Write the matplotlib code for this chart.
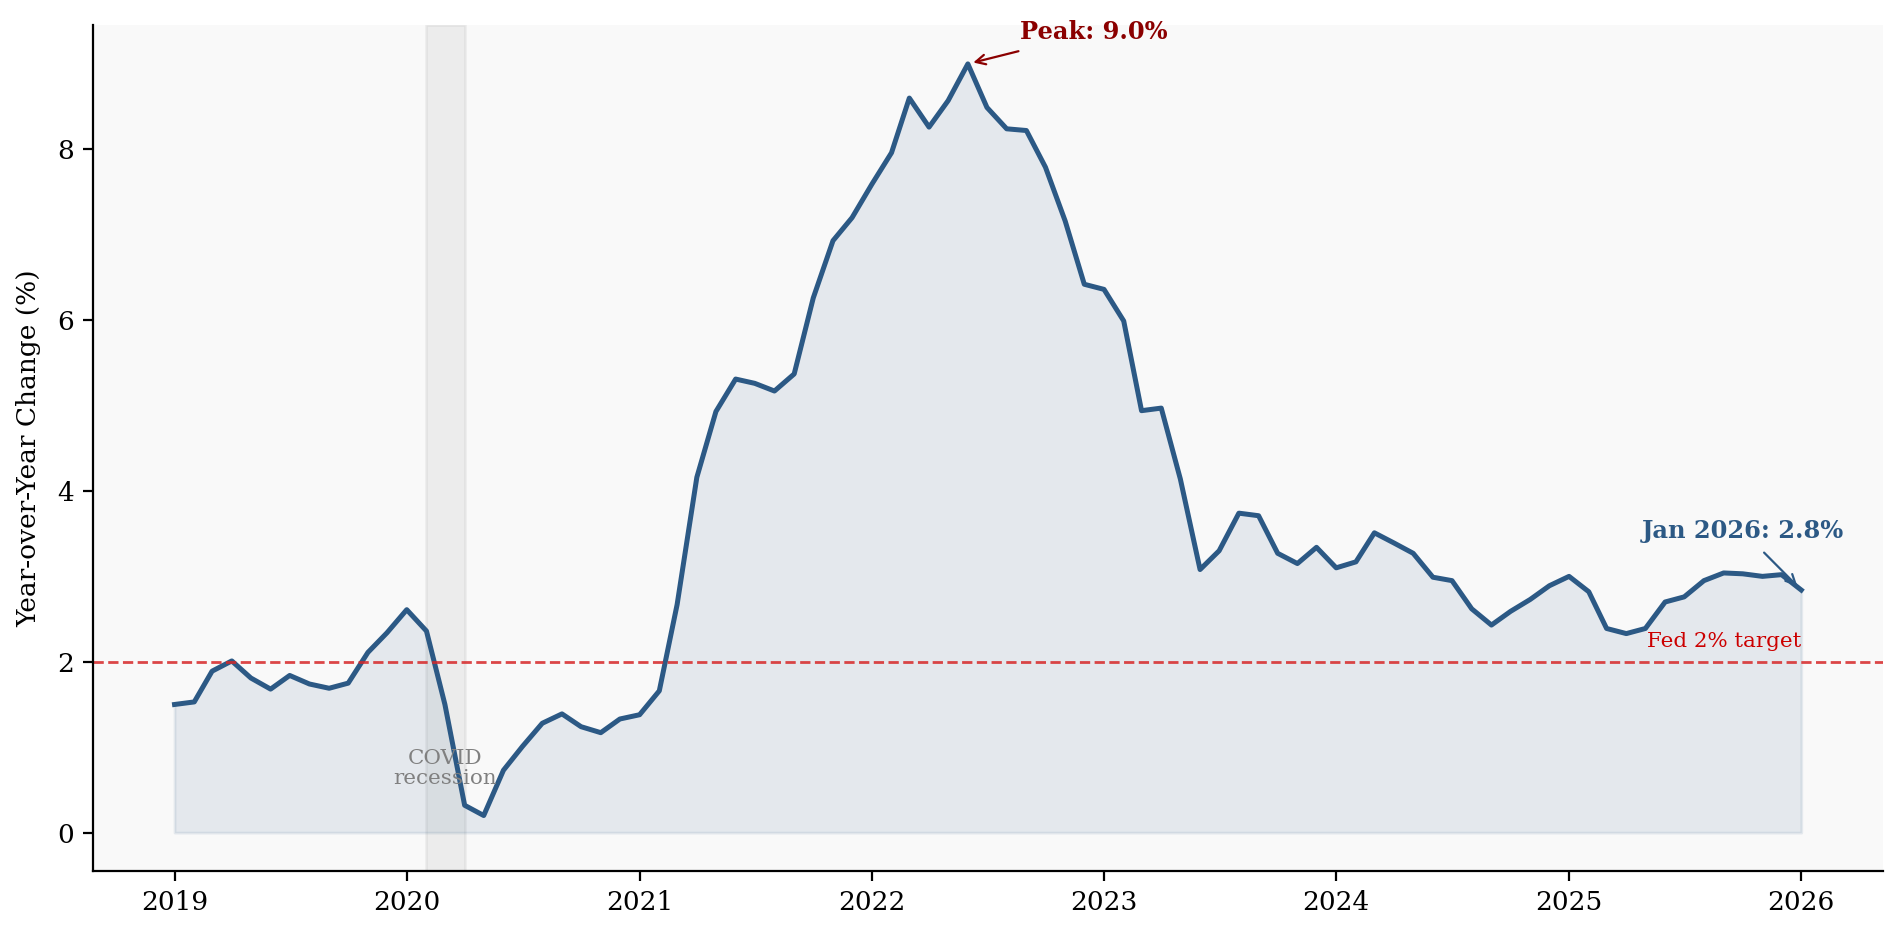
import numpy as np
import pandas as pd
import matplotlib
matplotlib.use("Agg")
import matplotlib.pyplot as plt

plt.rcParams['font.family'] = 'serif'

# ---------------- DATA ----------------
dates = pd.date_range("2019-01-01", "2026-01-01", freq="MS")
cpi_yoy = [
    1.50, 1.53, 1.89, 2.01, 1.81, 1.68, 1.84, 1.74, 1.69, 1.75, 2.11, 2.34,  # 2019
    2.61, 2.36, 1.50, 0.32, 0.20, 0.73, 1.01, 1.28, 1.39, 1.24, 1.17, 1.33,  # 2020
    1.38, 1.66, 2.67, 4.16, 4.93, 5.31, 5.26, 5.17, 5.37, 6.26, 6.93, 7.20,  # 2021
    7.59, 7.96, 8.60, 8.26, 8.57, 9.00, 8.49, 8.24, 8.22, 7.79, 7.16, 6.42,  # 2022
    6.36, 5.99, 4.94, 4.97, 4.14, 3.08, 3.30, 3.74, 3.71, 3.27, 3.15, 3.34,  # 2023
    3.10, 3.17, 3.51, 3.39, 3.27, 2.99, 2.95, 2.62, 2.43, 2.59, 2.73, 2.89,  # 2024
    3.00, 2.82, 2.39, 2.33, 2.39, 2.70, 2.76, 2.95, 3.04, 3.03, 3.00, 3.02,  # 2025
    2.84,                                                                    # 2026
]
fed_target = 2.0
recession_start, recession_end = pd.Timestamp("2020-02-01"), pd.Timestamp("2020-04-01")

line_color = "#2c5985"

# ---------------- PLOT ----------------
fig = plt.figure(figsize=(9.51, 4.68), dpi=200)
ax = fig.add_axes([0.049, 0.0694, 0.9408, 0.9034])
ax.set_facecolor("#f9f9f9")

ax.axvspan(recession_start, recession_end, color="gray", alpha=0.1)
ax.fill_between(dates, 0, cpi_yoy, color=line_color, alpha=0.1)
ax.plot(dates, cpi_yoy, color=line_color, linewidth=1.8)
ax.axhline(fed_target, color="#d62728", linestyle="--", linewidth=1.0, alpha=0.85)

ax.text(dates[-1], fed_target + 0.13, "Fed 2% target", color="#cc0000",
        fontsize=7.7, ha="right", va="bottom")
ax.text(pd.Timestamp("2020-03-01"), 0.75, "COVID\nrecession", color="gray",
        fontsize=7.7, ha="center", va="center", linespacing=1.1)

i_peak = int(np.argmax(cpi_yoy))
ax.annotate(f"Peak: {cpi_yoy[i_peak]:.1f}%", xy=(dates[i_peak], cpi_yoy[i_peak]),
            xytext=(pd.Timestamp("2022-12-16"), 9.37), ha="center", va="center",
            fontsize=8.7, fontweight="bold", color="#8b0000",
            arrowprops=dict(arrowstyle="->", color="#8b0000", lw=0.8))
ax.annotate(f"Jan 2026: {cpi_yoy[-1]:.1f}%", xy=(dates[-1], cpi_yoy[-1]),
            xytext=(pd.Timestamp("2025-10-01"), 3.53), ha="center", va="center",
            fontsize=8.7, fontweight="bold", color=line_color,
            arrowprops=dict(arrowstyle="->", color=line_color, lw=0.8))

ax.set_ylabel("Year-over-Year Change (%)", fontsize=9.5, labelpad=5.5)
ax.tick_params(labelsize=9.5)
ax.spines["top"].set_visible(False)
ax.spines["right"].set_visible(False)

fig.savefig("out.png", dpi=200)
